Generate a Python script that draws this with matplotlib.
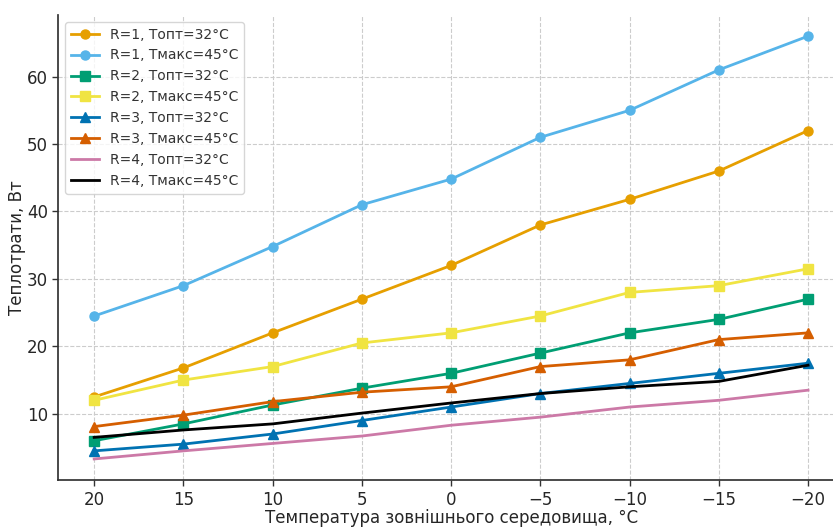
import matplotlib
matplotlib.use("Agg")
import matplotlib.pyplot as plt

plt.rcParams['font.family'] = ['DejaVu Sans']

# Outdoor temperature, °C
temps = [20, 15, 10, 5, 0, -5, -10, -15, -20]

# Heat losses, W
r1_topt = [12.5, 16.8, 22.0, 27.0, 32.0, 38.0, 41.8, 46.0, 52.0]
r1_tmax = [24.5, 29.0, 34.8, 41.0, 44.8, 51.0, 55.0, 61.0, 66.0]
r2_topt = [6.0, 8.5, 11.3, 13.8, 16.0, 19.0, 22.0, 24.0, 27.0]
r2_tmax = [12.0, 15.0, 17.0, 20.5, 22.0, 24.5, 28.0, 29.0, 31.5]
r3_topt = [4.5, 5.5, 7.0, 9.0, 11.0, 13.0, 14.5, 16.0, 17.5]
r3_tmax = [8.1, 9.8, 11.8, 13.2, 14.0, 17.0, 18.0, 21.0, 22.0]
r4_topt = [3.3, 4.5, 5.6, 6.7, 8.3, 9.5, 11.0, 12.0, 13.5]
r4_tmax = [6.5, 7.6, 8.5, 10.1, 11.6, 13.0, 14.0, 14.8, 17.2]

series = [
    ("R=1, Топт=32°C", r1_topt, "#E69F00", "o"),
    ("R=1, Тмакс=45°C", r1_tmax, "#56B4E9", "o"),
    ("R=2, Топт=32°C", r2_topt, "#009E73", "s"),
    ("R=2, Тмакс=45°C", r2_tmax, "#F0E442", "s"),
    ("R=3, Топт=32°C", r3_topt, "#0072B2", "^"),
    ("R=3, Тмакс=45°C", r3_tmax, "#D55E00", "^"),
    ("R=4, Топт=32°C", r4_topt, "#CC79A7", None),
    ("R=4, Тмакс=45°C", r4_tmax, "#000000", None),
]

fig = plt.figure(figsize=(8.33, 5.27), dpi=100)
ax = fig.add_axes([0.0702, 0.089, 0.9427, 0.8825])

for label, vals, color, marker in series:
    ax.plot(temps, vals, color=color, marker=marker, markersize=6.5,
            linewidth=2, label=label)

ax.invert_xaxis()
ax.set_xticks([20, 15, 10, 5, 0, -5, -10, -15, -20])
ax.set_yticks([10, 20, 30, 40, 50, 60])

ax.grid(True, linestyle='--', color='#cccccc', linewidth=0.8)
ax.set_axisbelow(True)

for side in ('top', 'right'):
    ax.spines[side].set_visible(False)
for side in ('left', 'bottom'):
    ax.spines[side].set_color('#333333')
    ax.spines[side].set_linewidth(1.25)

ax.tick_params(axis='both', labelsize=12, colors='#333333', labelcolor='#262626',
               length=4, width=1.0)

ax.set_xlabel("Температура зовнішнього середовища, °C", fontsize=12,
              color='#262626', labelpad=0)
ax.set_ylabel("Теплотрати, Вт", fontsize=12, color='#262626', labelpad=1)

leg = ax.legend(loc='upper left', fontsize=10, frameon=True, fancybox=True)
leg.get_frame().set_edgecolor('#cccccc')
for t in leg.get_texts():
    t.set_color('#333333')

fig.savefig("out.png", dpi=100)
